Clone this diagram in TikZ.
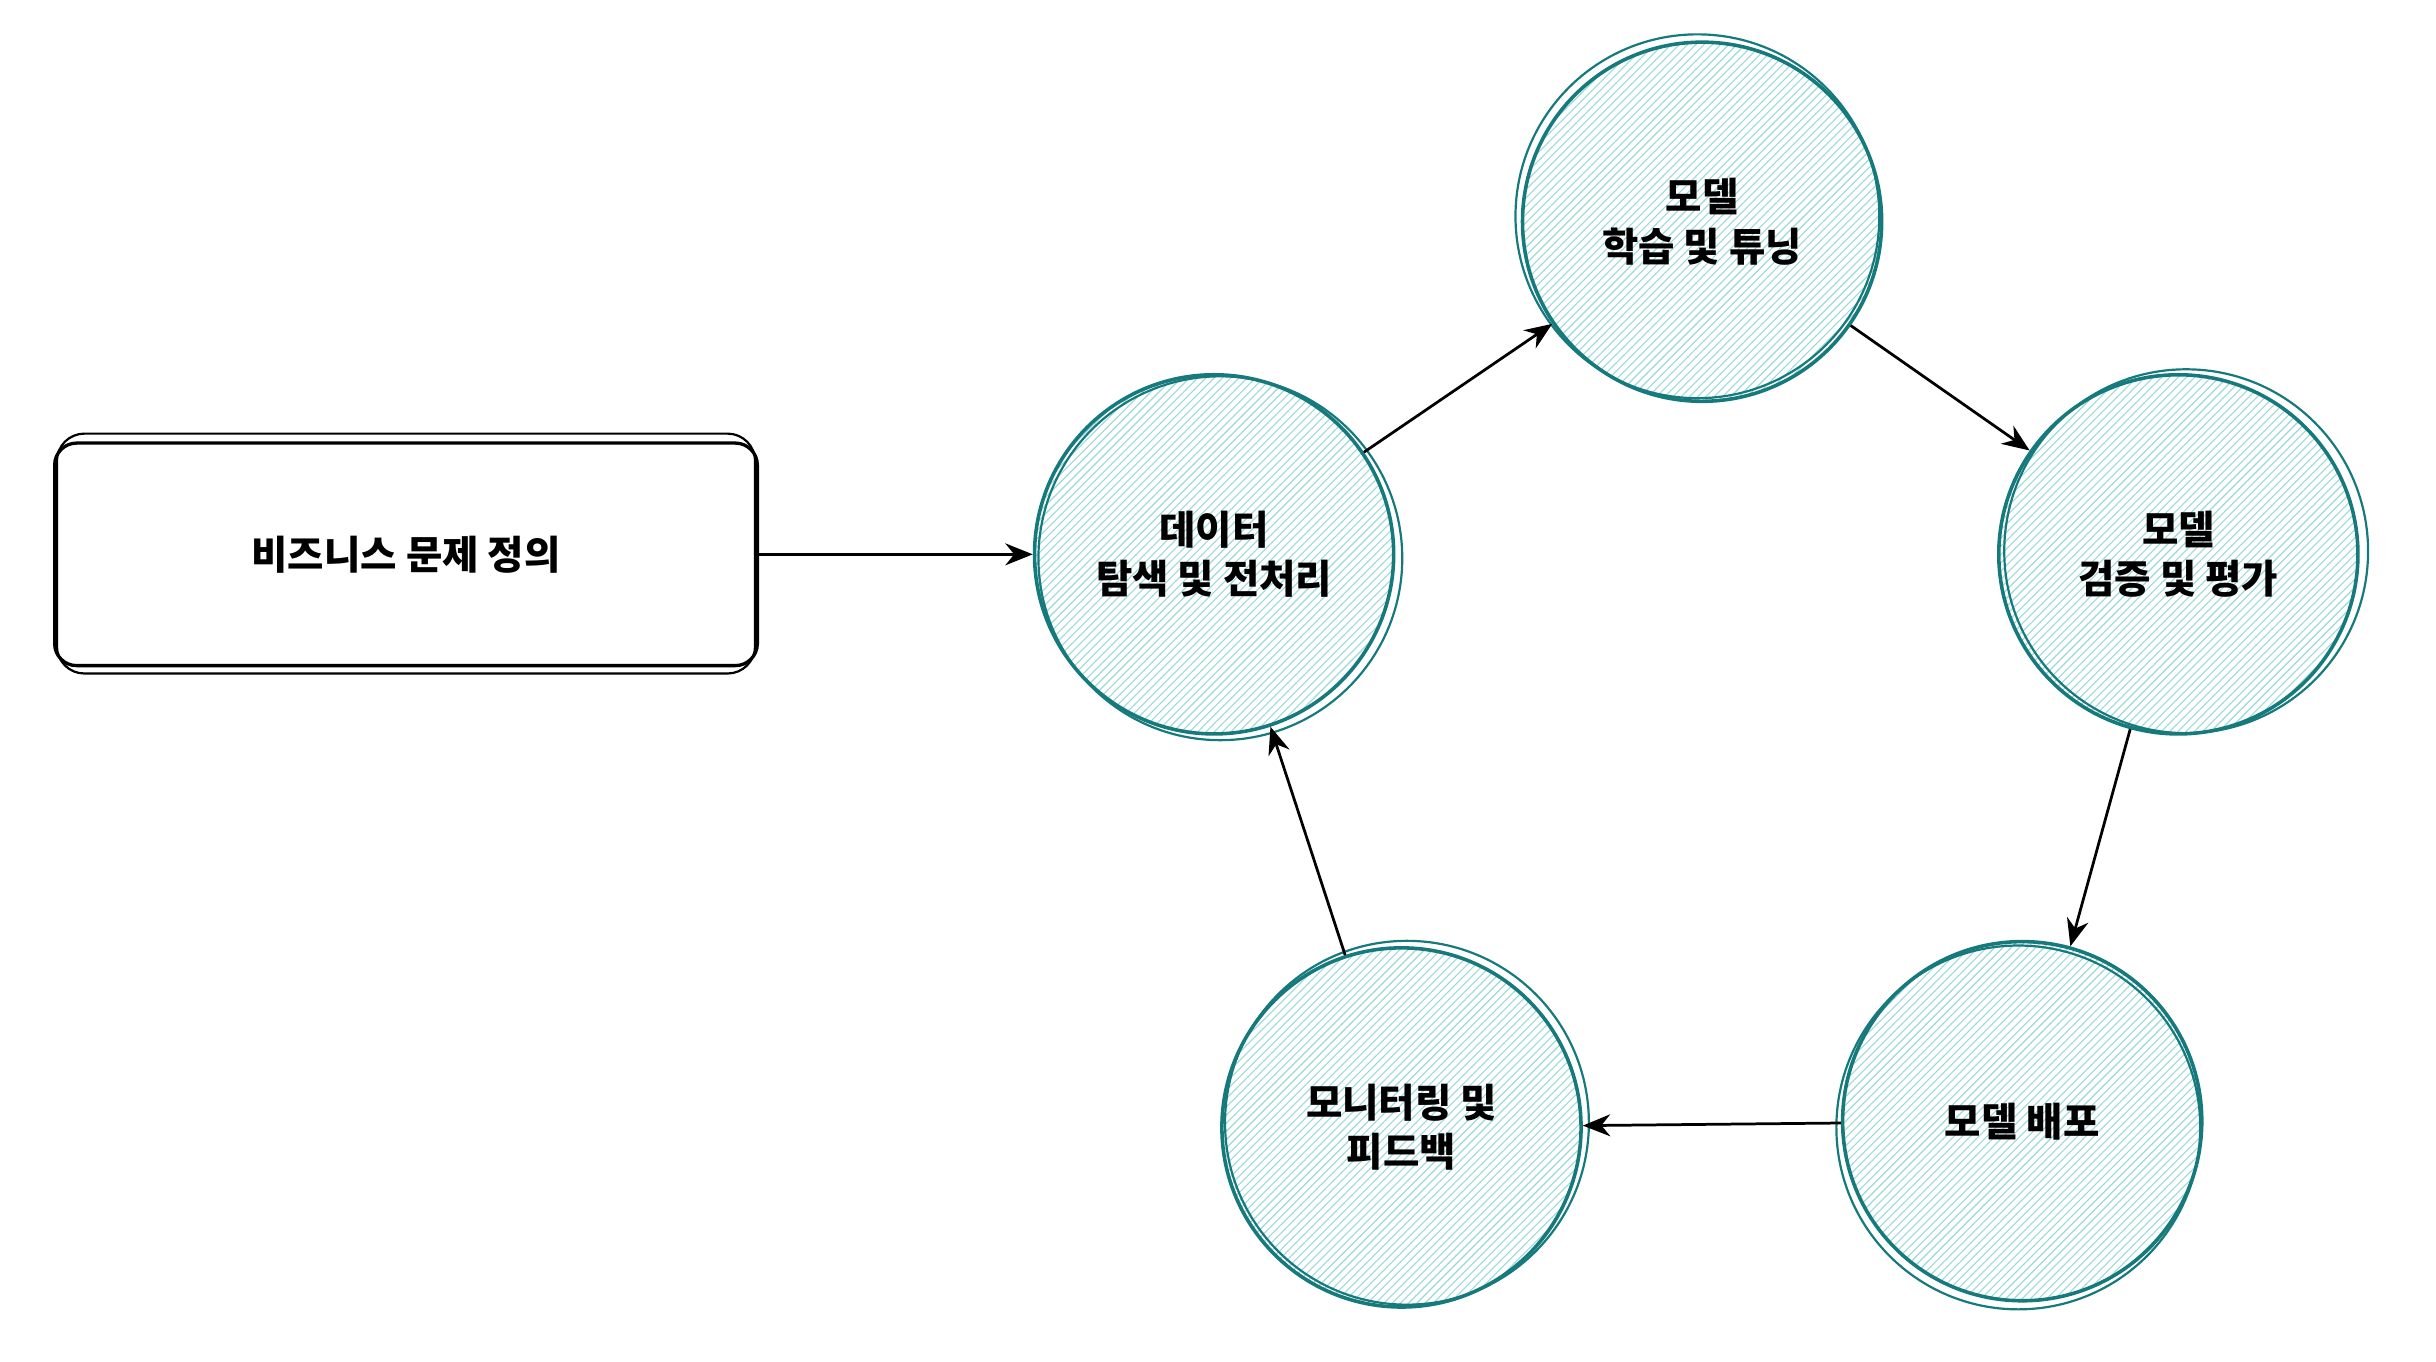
\documentclass[tikz,border=0pt]{standalone}
\usepackage{fontspec}
\setmainfont{Noto Sans CJK KR}
\usetikzlibrary{arrows.meta,patterns}
\definecolor{stepline}{HTML}{167A7C}
\definecolor{stephatch}{HTML}{9ED9D9}
\begin{document}
\begin{tikzpicture}
  \tikzstyle{every path}=[thick]
  \tikzstyle{stage}=[circle,draw=stepline,line width=1.3pt,minimum size=4.6cm,
    pattern=north east lines,pattern color=stephatch,align=center,font=\Large\bfseries]
  \tikzstyle{taskbox}=[draw,rounded corners=8pt,line width=1.2pt,minimum width=9cm,
    minimum height=2.85cm,font=\Large\bfseries]
  \tikzstyle{flow}=[-{Stealth[length=10pt,width=8pt]},line width=1pt]

  \useasboundingbox (0,0) rectangle (31.2,-17.44);

  \node [taskbox] (problem) at (5.2,-7.1) {비즈니스 문제 정의};
  \node [stage] (explore) at (15.55,-7.1) {데이터\\탐색 및 전처리};
  \node [stage] (train) at (21.8,-2.84) {모델\\학습 및 튜닝};
  \node [stage] (validate) at (27.9,-7.1) {모델\\검증 및 평가};
  \node [stage] (deploy) at (25.9,-14.36) {모델 배포};
  \node [stage] (monitor) at (17.95,-14.44) {모니터링 및\\피드백};

  % sketchy second outlines
  \foreach \n/\dx/\dy in {explore/0.08/-0.05,train/-0.06/0.07,validate/0.1/0.04,deploy/-0.05/-0.08,monitor/0.07/0.06}
    \draw [stepline,line width=0.8pt] ([shift={(\dx,\dy)}]\n.center) circle (2.33);
  \draw [line width=0.8pt,rounded corners=10pt] ([shift={(0.05,-0.08)}]problem.south west) rectangle ([shift={(-0.05,0.1)}]problem.north east);

  \draw [flow] (problem) -- (explore);
  \draw [flow] (explore) -- (train);
  \draw [flow] (train) -- (validate);
  \draw [flow] (validate) -- (deploy);
  \draw [flow] (deploy) -- (monitor);
  \draw [flow] (monitor) -- (explore);
\end{tikzpicture}
\end{document}
